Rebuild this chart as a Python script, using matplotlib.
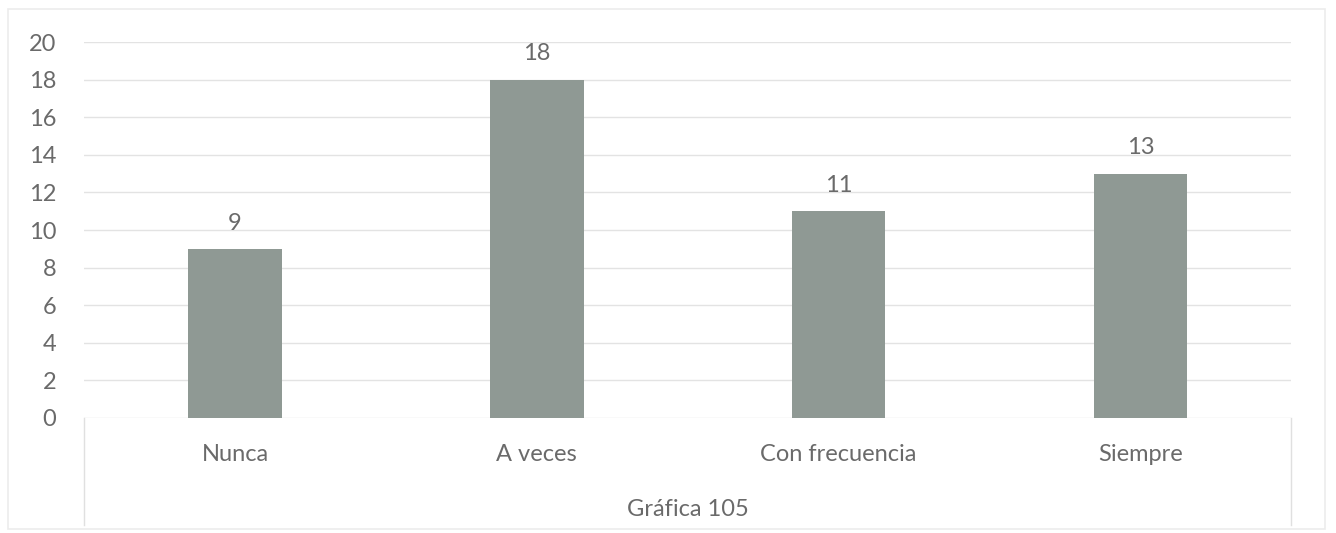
import matplotlib.pyplot as plt
import numpy as np
from matplotlib.patches import Rectangle

categories = ["Nunca", "A veces", "Con frecuencia", "Siempre"]
values = [9, 18, 11, 13]
yticks = [0, 2, 4, 6, 8, 10, 12, 14, 16, 18, 20]
xlabel = "Gráfica 105"

plt.rcParams['font.family'] = ['Lato', 'DejaVu Sans']
text_color = "#6a6a6a"
fs = 17

fig = plt.figure(figsize=(13.36, 5.33), dpi=100)
ax = fig.add_axes([0.063, 0.2158, 0.9035, 0.7052])

# faint chart-area border
fig.patches.append(Rectangle((0.006, 0.008), 0.986, 0.975, transform=fig.transFigure,
                             fill=False, edgecolor="#ececec", linewidth=1.2))

x = np.arange(len(categories))
bars = ax.bar(x, values, width=0.31, color="#8f9994", zorder=3)
for b, v in zip(bars, values):
    ax.annotate(str(v), (b.get_x() + b.get_width() / 2, v), xytext=(0, 11),
                textcoords="offset points", ha="center", va="bottom",
                fontsize=fs, color=text_color)

ax.set_xlim(-0.5, len(categories) - 0.5)
ax.set_ylim(0, 20)
ax.set_yticks(yticks)
ax.set_xticks(x)
ax.set_xticklabels(categories)
ax.tick_params(axis="both", length=0, labelsize=fs, colors=text_color)
ax.tick_params(axis="x", pad=19)
ax.tick_params(axis="y", pad=20)
ax.grid(axis="y", color="#e3e3e3", linewidth=1, zorder=0)
for s in ax.spines.values():
    s.set_visible(False)
ax.set_xlabel(xlabel, fontsize=fs, color=text_color, labelpad=24)

# table-like vertical lines under the axis
for xv in (-0.5, len(categories) - 0.5):
    ax.plot([xv, xv], [0, -5.7], color="#e0e0e0", linewidth=1, clip_on=False)

fig.savefig("out.png", dpi=100)
